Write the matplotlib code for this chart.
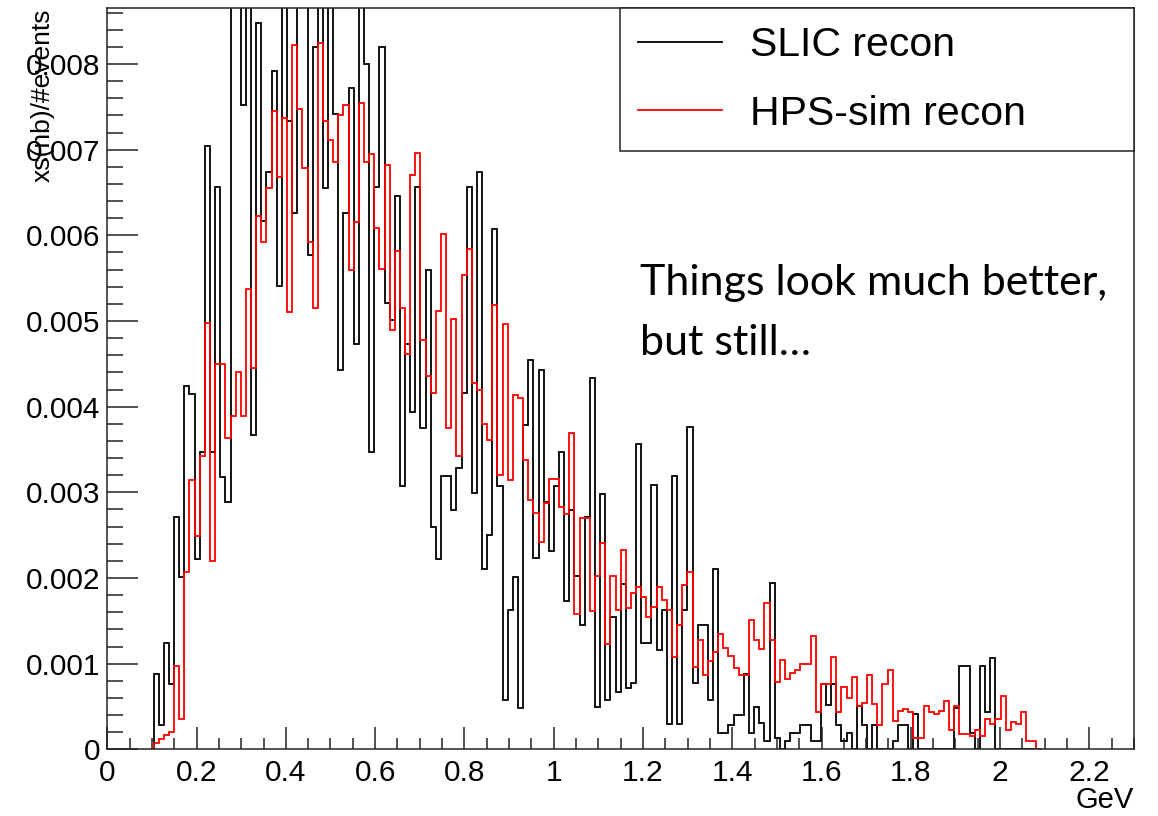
import numpy as np
import matplotlib
matplotlib.use("Agg")
import matplotlib.pyplot as plt
from matplotlib.ticker import MultipleLocator, FuncFormatter

# ---------------- data (histogram contents, units of 1e-3) ----------------
bin_width = 0.0115          # GeV
first_bin = 9               # index of first filled bin (low edge = 9 * bin_width)
value_scale = 1e-3

slic_recon = [
    0.88, 0.28, 1.24, 0.76, 2.71, 2.01, 4.24, 4.15, 2.22, 3.47,   # 9-18
    7.04, 3.47, 6.56, 3.18, 2.89, 9.00, 9.00, 7.52, 9.00, 3.67,   # 19-28
    8.48, 6.17, 6.74, 7.92, 5.41, 9.00, 7.34, 6.26, 9.00, 9.00,   # 29-38
    5.77, 8.20, 9.00, 6.55, 9.00, 7.42, 4.43, 6.26, 7.72, 4.73,   # 39-48
    9.00, 8.00, 3.47, 6.56, 8.20, 5.21, 5.01, 6.46, 3.07, 4.73,   # 49-58
    3.94, 6.56, 3.75, 5.59, 2.60, 2.22, 3.19, 3.19, 2.79, 3.28,   # 59-68
    4.16, 6.56, 2.99, 6.74, 2.11, 2.50, 6.07, 3.07, 0.58, 1.63,   # 69-78
    2.01, 0.48, 3.79, 4.54, 2.23, 4.43, 2.89, 2.31, 3.07, 3.47,   # 79-88
    1.73, 2.79, 2.02, 1.45, 2.71, 4.34, 0.49, 2.98, 0.58, 1.55,   # 89-98
    0.67, 1.93, 0.72, 0.77, 3.56, 1.24, 1.24, 3.08, 1.16, 1.63,   # 99-108
    0.30, 3.19, 0.30, 1.63, 3.76, 0.77, 1.45, 1.45, 0.58, 2.11,   # 109-118
    0.19, 0.19, 0.28, 0.40, 0.40, 0.88, 0.19, 0.49, 0.31, 0.10,   # 119-128
    1.94, 0.13, 0.00, 0.10, 0.19, 0.19, 0.28, 0.28, 0.10, 0.10,   # 129-138
    0.76, 0.52, 0.76, 0.28, 0.10, 0.19, 0.00, 0.50, 0.28, 0.00,   # 139-148
    0.28, 0.00, 0.00, 0.00, 0.10, 0.28, 0.28, 0.00, 0.41, 0.00,   # 149-158
    0.00, 0.00, 0.00, 0.00, 0.00, 0.00, 0.48, 0.97, 0.97, 0.19,   # 159-168
    0.00, 0.97, 0.43, 1.06, 0.00, 0.00, 0.00, 0.00, 0.00, 0.00,   # 169-178
    0.00, 0.00, 0.00,                                             # 179-181
]

hps_sim_recon = [
    0.07, 0.12, 0.17, 0.20, 0.97, 0.35, 2.07, 3.14, 2.49, 3.42,   # 9-18
    4.98, 2.20, 4.50, 4.50, 3.63, 3.89, 4.41, 3.89, 5.37, 4.45,   # 19-28
    6.22, 5.92, 6.55, 7.45, 6.68, 7.37, 5.11, 8.22, 7.47, 6.78,   # 29-38
    5.92, 5.15, 8.24, 7.34, 7.11, 6.85, 7.40, 7.52, 5.59, 6.15,   # 39-48
    7.55, 6.85, 6.95, 6.09, 5.61, 6.82, 4.89, 5.82, 5.15, 4.61,   # 49-58
    6.70, 6.96, 4.78, 4.36, 4.16, 5.12, 6.02, 3.75, 5.02, 3.42,   # 59-68
    5.54, 5.84, 4.28, 4.20, 3.80, 3.61, 5.19, 3.20, 4.96, 3.14,   # 69-78
    4.14, 4.10, 3.38, 2.91, 2.76, 2.42, 2.87, 3.15, 3.15, 2.83,   # 79-88
    2.75, 3.69, 1.58, 2.70, 2.70, 1.61, 2.02, 2.41, 1.23, 2.02,   # 89-98
    1.63, 2.33, 1.65, 1.82, 1.89, 1.78, 1.55, 1.66, 1.89, 1.74,   # 99-108
    1.63, 1.08, 1.45, 1.92, 2.07, 0.96, 1.28, 0.87, 1.03, 1.14,   # 109-118
    1.35, 1.18, 1.09, 0.95, 0.87, 0.87, 1.51, 1.28, 1.17, 1.71,   # 119-128
    1.28, 0.78, 1.04, 0.82, 0.89, 0.93, 0.99, 1.00, 1.32, 0.43,   # 129-138
    0.76, 0.76, 1.08, 0.43, 0.73, 0.60, 0.84, 0.51, 0.54, 0.87,   # 139-148
    0.53, 0.28, 0.76, 0.93, 0.33, 0.45, 0.47, 0.43, 0.13, 0.13,   # 149-158
    0.50, 0.43, 0.41, 0.45, 0.56, 0.22, 0.51, 0.18, 0.18, 0.16,   # 159-168
    0.23, 0.15, 0.35, 0.30, 0.35, 0.62, 0.23, 0.32, 0.30, 0.43,   # 169-178
    0.10, 0.10, 0.00,                                             # 179-181
]

series_labels = ["SLIC recon", "HPS-sim recon"]
series_colors = ["black", "#ff0000"]
x_label = "GeV"
y_label = "xs(nb)/#events"
note_lines = ["Things look much better,", "but still\u2026"]

# ---------------- figure ----------------
W, H = 1158, 816
fig = plt.figure(figsize=(W / 100, H / 100), dpi=100)
plt.rcParams['font.family'] = ['Liberation Sans', 'DejaVu Sans']

L, R, T, B = 107.3, 1134.0, 8.3, 749.3
ax = fig.add_axes([L / W, 1 - B / H, (R - L) / W, (B - T) / H])

edges = (first_bin + np.arange(len(slic_recon) + 1)) * bin_width
for vals, lab, col in zip([slic_recon, hps_sim_recon], series_labels, series_colors):
    ax.stairs(np.asarray(vals) * value_scale, edges, baseline=0,
              color=col, lw=1.3, label=lab)

ax.set_xlim(0, 2.3)
ax.set_ylim(0, 0.00865)

ax.xaxis.set_major_locator(MultipleLocator(0.2))
ax.xaxis.set_minor_locator(MultipleLocator(0.05))
ax.yaxis.set_major_locator(MultipleLocator(0.001))
ax.yaxis.set_minor_locator(MultipleLocator(0.0002))
ax.xaxis.set_major_formatter(FuncFormatter(lambda v, _: f"{round(v, 3):g}"))
ax.yaxis.set_major_formatter(FuncFormatter(lambda v, _: "0" if abs(v) < 1e-12 else f"{v:.3f}"))

tick_col = "#222222"
ax.tick_params(which='both', direction='in', top=False, right=False, colors=tick_col,
               labelcolor='black')
ax.tick_params(axis='x', which='major', length=15.8, width=1.1, labelsize=21.5, pad=7)
ax.tick_params(axis='x', which='minor', length=7.9, width=1.1)
ax.tick_params(axis='y', which='major', length=22.3, width=1.1, labelsize=21.5, pad=5)
ax.tick_params(axis='y', which='minor', length=11.2, width=1.1)
for s in ax.spines.values():
    s.set_linewidth(1.1)
    s.set_color(tick_col)

ax.set_xlabel(x_label, fontsize=21, loc='right')
ax.xaxis.set_label_coords(1.0, (B - 786) / (B - T))
ax.set_ylabel(y_label, fontsize=19, loc='top')
ax.yaxis.set_label_coords((55 - L) / (R - L), 1.0)

leg = ax.legend(loc='upper left', bbox_to_anchor=((620 - L) / (R - L), 0.0, (R - 620) / (R - L), 1.0),
                mode='expand', borderaxespad=0, fontsize=29.5, handlelength=2.05,
                handletextpad=0.68, labelspacing=0.74, borderpad=0.44, frameon=True,
                fancybox=False, framealpha=1)
leg.get_frame().set_edgecolor(tick_col)
leg.get_frame().set_linewidth(1.1)

fig.text(640 / W, 1 - 295 / H, note_lines[0], fontsize=31, family=['Lato', 'DejaVu Sans'],
         va='baseline', ha='left')
fig.text(640 / W, 1 - 355 / H, note_lines[1], fontsize=31, family=['Lato', 'DejaVu Sans'],
         va='baseline', ha='left')

fig.savefig("out.png", dpi=100)
